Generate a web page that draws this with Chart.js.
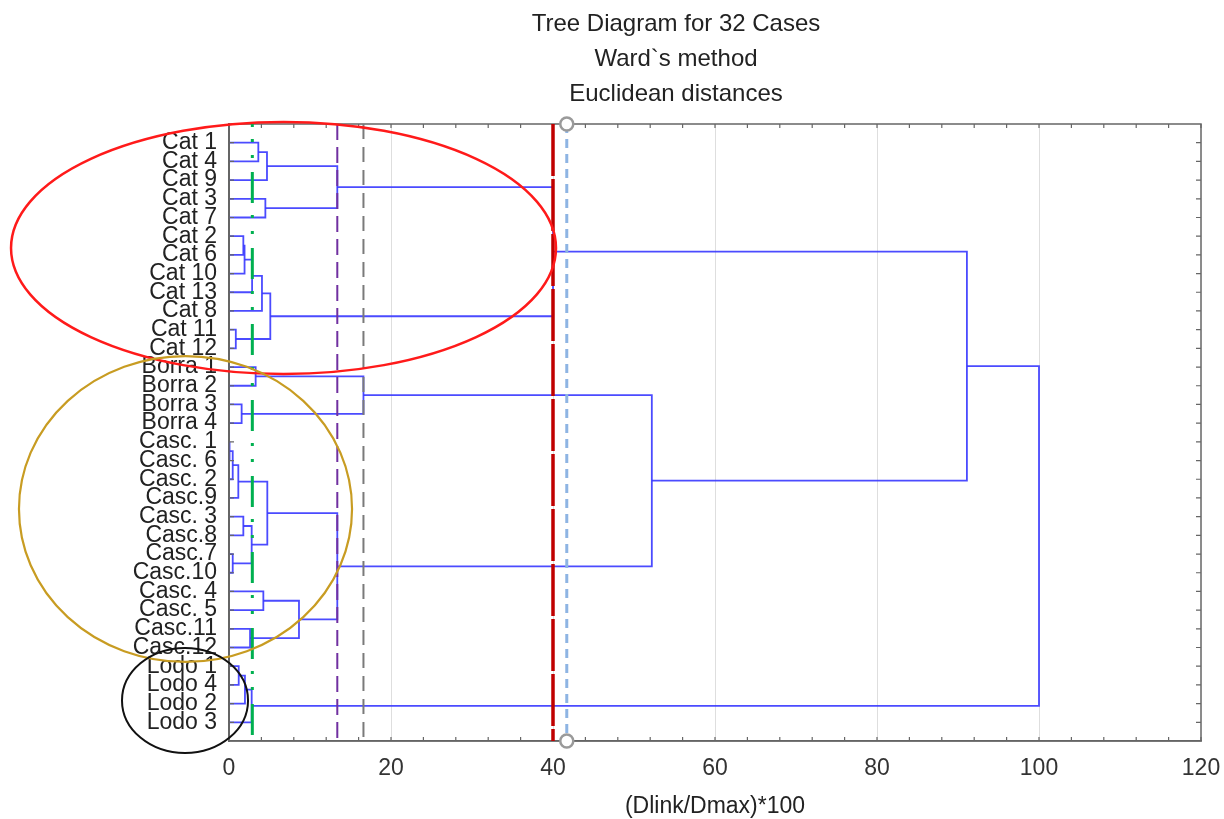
<!DOCTYPE html>
<html>
<head>
<meta charset="utf-8">
<script src="https://cdn.jsdelivr.net/npm/chart.js@4.4.0/dist/chart.umd.min.js"></script>
<style>
html, body { margin: 0; padding: 0; background: #fff; }
#wrap { width: 1224px; height: 819px; }
</style>
</head>
<body>
<div id="wrap"><canvas id="tree"></canvas></div>
<script>
// feuilles, de haut en bas
const leafNames = [
    'Cat 1', 'Cat 4', 'Cat 9', 'Cat 3', 'Cat 7', 'Cat 2', 'Cat 6', 'Cat 10',
    'Cat 13', 'Cat 8', 'Cat 11', 'Cat 12', 'Borra 1', 'Borra 2', 'Borra 3', 'Borra 4',
    'Casc. 1', 'Casc. 6', 'Casc. 2', 'Casc.9', 'Casc. 3', 'Casc.8', 'Casc.7', 'Casc.10',
    'Casc. 4', 'Casc. 5', 'Casc.11', 'Casc.12', 'Lodo 1', 'Lodo 4', 'Lodo 2', 'Lodo 3'
];

// fusions : noeud a + noeud b (feuille = 0..31, groupe = 32 + indice de fusion)
const mergeA = [16, 22, 32, 10, 34, 28, 14, 5, 20, 39, 37, 26, 41, 40, 42, 12,
                0, 44, 24, 3, 48, 36, 49, 50, 52, 53, 47, 56, 58, 59, 61];
const mergeB = [17, 23, 18, 11, 19, 29, 15, 6, 21, 7, 30, 27, 8, 33, 31, 13,
                1, 9, 25, 4, 2, 45, 35, 43, 51, 55, 38, 54, 57, 60, 46];
const mergeHeight = [0.1, 0.46, 0.46, 0.84, 1.15, 1.2, 1.56, 1.77, 1.77, 1.92, 1.97, 2.6, 2.85, 2.8, 2.8, 3.29,
                     3.62, 4.07, 4.24, 4.49, 4.69, 4.73, 5.1, 8.64, 13.37, 13.37, 16.6, 40.0, 52.2, 91.1, 100];

const xTicks = [0, 20, 40, 60, 80, 100, 120];
const cutLevels = [2.88, 13.37, 16.6, 40.0, 41.7];
const markerLevel = 41.7;

const titleLines = ['Tree Diagram for 32 Cases', 'Ward`s method', 'Euclidean distances'];
const xTitle = '(Dlink/Dmax)*100';

Chart.defaults.font.family = "'Liberation Sans', Arial, sans-serif";

// construire les segments du dendrogramme
const nodeY = leafNames.map((_, i) => i + 1);
const nodeH = leafNames.map(() => 0);
const datasets = [];
mergeA.forEach((a, i) => {
    const b = mergeB[i];
    const h = mergeHeight[i];
    datasets.push({
        data: [
            {x: nodeH[a], y: nodeY[a]},
            {x: h, y: nodeY[a]},
            {x: h, y: nodeY[b]},
            {x: nodeH[b], y: nodeY[b]}
        ],
        showLine: true,
        borderColor: 'rgba(55, 55, 255, 0.9)',
        borderWidth: 1.8,
        pointRadius: 0,
        tension: 0
    });
    nodeY.push((nodeY[a] + nodeY[b]) / 2);
    nodeH.push(h);
});

const cutStyles = [
    {color: '#00b050', width: 3, dash: [31, 12, 3, 13, 3, 14], offset: 28},
    {color: '#7030a0', width: 2, dash: [16, 7], offset: 0},
    {color: '#7a7a7a', width: 2, dash: [15, 8], offset: 0},
    {color: '#c00000', width: 3.5, dash: [52, 3], offset: 0},
    {color: '#8eb4e3', width: 3, dash: [9, 6], offset: 0}
];

// ellipses en unités des axes
const ellipses = [
    {cx: 6.73, cy: 6.63, rx: 33.64, ry: 6.74, color: '#ff1a1a', width: 2.5},
    {cx: -5.37, cy: 20.59, rx: 20.56, ry: 8.18, color: '#c89c22', width: 2.2},
    {cx: -5.43, cy: 30.83, rx: 7.78, ry: 2.81, color: '#111111', width: 2}
];

// titre centré à la main (pas au centre du canvas)
const titlePlugin = {
    id: 'titre',
    afterDraw(chart) {
        const ctx = chart.ctx;
        ctx.save();
        ctx.fillStyle = '#222';
        ctx.font = "24px 'Liberation Sans', Arial, sans-serif";
        ctx.textAlign = 'center';
        ctx.textBaseline = 'middle';
        titleLines.forEach((t, i) => ctx.fillText(t, 676, 24 + i * 35));
        ctx.restore();
    }
};

const decorPlugin = {
    id: 'decor',
    afterDatasetsDraw(chart) {
        const {ctx, chartArea: a, scales: {x, y}} = chart;
        ctx.save();

        // cadre et petites graduations
        ctx.strokeStyle = '#666';
        ctx.lineWidth = 1.5;
        ctx.strokeRect(a.left, a.top, a.right - a.left, a.bottom - a.top);
        ctx.lineWidth = 1.2;
        ctx.beginPath();
        for (let v = 0; v <= 120; v += 4) {
            const px = x.getPixelForValue(v);
            ctx.moveTo(px, a.top); ctx.lineTo(px, a.top + 4);
            ctx.moveTo(px, a.bottom); ctx.lineTo(px, a.bottom - 4);
        }
        leafNames.forEach((_, i) => {
            const py = y.getPixelForValue(i + 1);
            ctx.moveTo(a.left, py); ctx.lineTo(a.left + 5, py);
            ctx.moveTo(a.right, py); ctx.lineTo(a.right - 5, py);
        });
        ctx.stroke();

        // lignes de coupe
        cutLevels.forEach((v, i) => {
            const s = cutStyles[i];
            const px = x.getPixelForValue(v);
            ctx.strokeStyle = s.color;
            ctx.lineWidth = s.width;
            ctx.setLineDash(s.dash);
            ctx.lineDashOffset = s.offset;
            ctx.beginPath();
            ctx.moveTo(px, a.top);
            ctx.lineTo(px, a.bottom);
            ctx.stroke();
        });
        ctx.setLineDash([]);

        // cercles
        const mx = x.getPixelForValue(markerLevel);
        [a.top, a.bottom].forEach(py => {
            ctx.beginPath();
            ctx.arc(mx, py, 6.5, 0, Math.PI * 2);
            ctx.fillStyle = '#fff';
            ctx.fill();
            ctx.strokeStyle = '#9a9a9a';
            ctx.lineWidth = 2.5;
            ctx.stroke();
        });

        // ellipses
        ellipses.forEach(e => {
            const cx = x.getPixelForValue(e.cx);
            const cy = y.getPixelForValue(e.cy);
            const rx = Math.abs(x.getPixelForValue(e.cx + e.rx) - cx);
            const ry = Math.abs(y.getPixelForValue(e.cy + e.ry) - cy);
            ctx.beginPath();
            ctx.ellipse(cx, cy, rx, ry, 0, 0, Math.PI * 2);
            ctx.strokeStyle = e.color;
            ctx.lineWidth = e.width;
            ctx.stroke();
        });
        ctx.restore();
    }
};

var ctx = document.getElementById('tree').getContext('2d');
var treeChart = new Chart(ctx, {
    type: 'scatter',
    data: {datasets: datasets},
    plugins: [decorPlugin, titlePlugin],
    options: {
        responsive: true,
        maintainAspectRatio: false,
        animation: false,
        layout: {padding: {left: 0, right: 23, top: 124, bottom: 0}},
        plugins: {
            legend: {display: false},
            tooltip: {enabled: false},
            title: {display: false}
        },
        scales: {
            x: {
                type: 'linear',
                min: 0,
                max: 120,
                afterBuildTicks: scale => { scale.ticks = xTicks.map(v => ({value: v})); },
                afterFit: scale => {
                    scale.height = 78;
                    scale.paddingLeft = 0;
                    scale.paddingRight = 0;
                },
                ticks: {color: '#333', font: {size: 23}, padding: 14},
                grid: {
                    color: c => (c.tick && c.tick.value > 0 && c.tick.value < 120) ? '#dedede' : 'rgba(0,0,0,0)',
                    drawTicks: false
                },
                border: {color: '#666', width: 1.5},
                title: {display: true, text: xTitle, color: '#222', font: {size: 23}, padding: {top: 0, bottom: -1}}
            },
            y: {
                type: 'linear',
                min: 0,
                max: 33,
                reverse: true,
                afterBuildTicks: scale => { scale.ticks = leafNames.map((_, i) => ({value: i + 1})); },
                afterFit: scale => { scale.width = 229; },
                ticks: {
                    autoSkip: false,
                    color: '#222',
                    font: {size: 23},
                    padding: 12,
                    callback: v => leafNames[v - 1]
                },
                grid: {display: false, drawTicks: false},
                border: {color: '#666', width: 2}
            }
        }
    }
});
</script>
</body>
</html>
